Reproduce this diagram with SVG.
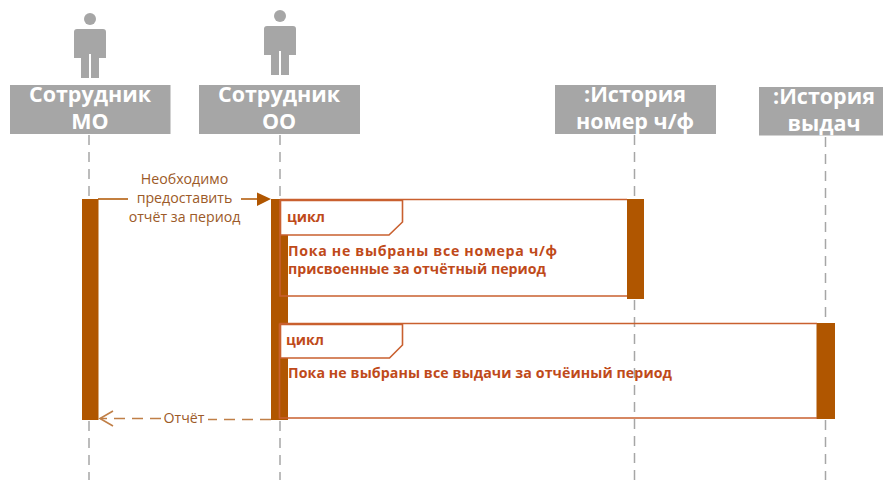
<svg xmlns="http://www.w3.org/2000/svg" width="883" height="480" viewBox="0 0 883 480">
<style>
.box{fill:#a6a6a6}
.person{fill:#a6a6a6}
.title{font-family:"Open Sans","Noto Sans","Liberation Sans",sans-serif;font-weight:700;font-size:21.5px;fill:#fff;text-anchor:middle}
.life{stroke:#a6a6a6;stroke-width:1.5;stroke-dasharray:10 7;fill:none}
.act{fill:#b05600}
.frame{fill:none;stroke:#c9602f;stroke-width:1.6}
.tab{fill:#fff;stroke:#c9602f;stroke-width:1.6}
.fl{font-family:"Open Sans","Noto Sans","Liberation Sans",sans-serif;font-weight:700;font-size:14.2px;fill:#bf4a1a}
.msg{font-family:"Open Sans","Noto Sans","Liberation Sans",sans-serif;font-size:14.2px;fill:#9c5a28;text-anchor:middle}
.m{stroke:#b05600;stroke-width:1.5;fill:none}
.md{stroke:#c07f47;stroke-width:1.6;stroke-dasharray:11 7;fill:none}
</style>
<defs>
<g id="man">
<circle cx="0" cy="-47" r="6"/>
<path d="M-13,-37 Q-16,-37 -16,-34 V-8 H-9 V12 H-1 V-12 H1 V12 H9 V-8 H16 V-34 Q16,-37 13,-37 Z"/>
</g>
</defs>
<g id="connectors">
<path class="life" d="M89,135V199M89,421V480"/>
<path class="life" d="M280,135V199M280,421V480"/>
<path class="life" d="M634.500,135V199M634.500,300V480"/>
<path class="life" d="M825.500,137V323M825.500,420V480"/>
<path class="m" d="M98,199H128M241,199H262"/>
<path d="M257,192.500L271,199L257,206Z" fill="#b05600"/>
<path class="md" d="M271,419.500H208M161,418.500H100"/>
<path d="M113,411L100,418.500L113,426" fill="none" stroke="#c07f47" stroke-width="1.600"/>
</g>
<g id="actor-mo">
<use href="#man" x="90" y="66" class="person"/>
<rect class="box" x="10" y="85" width="160.500" height="49"/>
<text class="title" x="90" y="102">Сотрудник</text>
<text class="title" x="90" y="129">МО</text>
</g>
<g id="actor-oo">
<use href="#man" x="280" y="63" class="person"/>
<rect class="box" x="199" y="85" width="161" height="49"/>
<text class="title" x="279" y="102">Сотрудник</text>
<text class="title" x="279" y="129">ОО</text>
</g>
<g id="actor-history-num">
<rect class="box" x="555" y="85" width="161" height="49"/>
<text class="title" x="635" y="102">:История</text>
<text class="title" x="635" y="129">номер ч/ф</text>
</g>
<g id="actor-history-issue">
<rect class="box" x="759" y="87" width="124" height="48.500"/>
<text class="title" x="824" y="104">:История</text>
<text class="title" x="824" y="131">выдач</text>
</g>
<g id="activation-mo"><rect class="act" x="82" y="199" width="16.500" height="221"/></g>
<g id="activation-oo"><rect class="act" x="271" y="199" width="17" height="221"/></g>
<g id="activation-num"><rect class="act" x="627" y="199" width="17" height="100"/></g>
<g id="activation-issue"><rect class="act" x="816.500" y="323" width="18.500" height="96"/></g>
<g id="frame-1">
<path class="frame" d="M280,199.500H627M280,199.500V296H627"/>
<path class="tab" d="M280.500,200.500H402.500V222L389,235H280.500Z"/>
<text class="fl" x="287" y="222">цикл</text>
<text class="fl" x="288" y="256" textLength="269">Пока не выбраны все номера ч/ф</text>
<text class="fl" x="288" y="274" textLength="258">присвоенные за отчётный период</text>
</g>
<g id="frame-2">
<path class="frame" d="M279.500,323.500H817M279.500,323.500V418H817"/>
<path class="tab" d="M280.500,324.500H402.500V345L389.500,358H280.500Z"/>
<text class="fl" x="286" y="345">цикл</text>
<text class="fl" x="288" y="378" textLength="384">Пока не выбраны все выдачи за отчёиный период</text>
</g>
<g id="msg-request">
<text class="msg" x="184.500" y="184">Необходимо</text>
<text class="msg" x="184.500" y="203">предоставить</text>
<text class="msg" x="184.500" y="222">отчёт за период</text>
</g>
<g id="msg-report">
<text class="msg" x="184" y="423">Отчёт</text>
</g>
</svg>
